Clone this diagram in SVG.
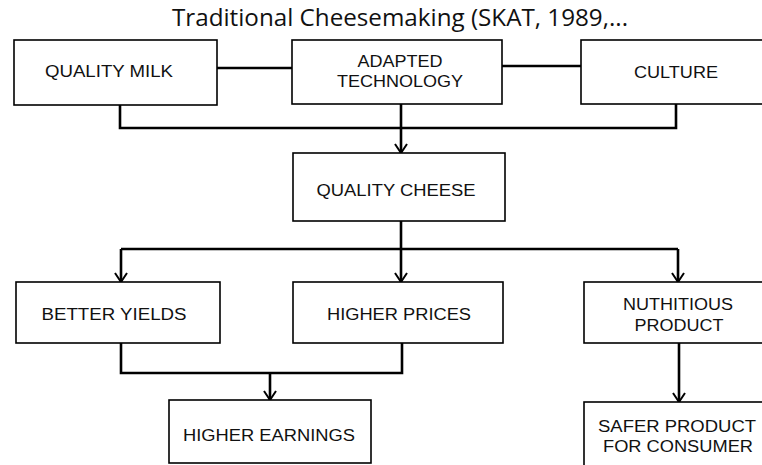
<svg xmlns="http://www.w3.org/2000/svg" width="762" height="465" viewBox="0 0 762 465">
<defs>
<style>
.box{fill:#fff;stroke:#000;stroke-width:1.6}
.lbl{font-family:"Liberation Sans",Arial,sans-serif;font-size:16px;fill:#111;text-anchor:middle}
.ttl{font-family:"Open Sans","Noto Sans",sans-serif;font-size:24px;fill:#111;text-anchor:middle}
.con{fill:none;stroke:#000;stroke-width:2.6}
</style>
<marker id="arr" markerUnits="userSpaceOnUse" markerWidth="20" markerHeight="20" refX="0" refY="0" viewBox="-10 -10 20 20" orient="auto">
<path d="M-9,-6 L0,0 L-9,6" fill="none" stroke="#000" stroke-width="2"/>
</marker>
</defs>
<rect width="762" height="465" fill="#fff"/>
<text class="ttl" x="400" y="26" textLength="456" lengthAdjust="spacingAndGlyphs">Traditional Cheesemaking (SKAT, 1989,...</text>
<g id="connectors">
<path class="con" d="M217,68 H292"/>
<path class="con" d="M502,66 H581"/>
<path class="con" d="M120,105 V128 H676 V104"/>
<path class="con" d="M401,104 V153" marker-end="url(#arr)"/>
<path class="con" d="M401,221 V249"/>
<path class="con" d="M121,249 H678"/>
<path class="con" d="M121,249 V282" marker-end="url(#arr)"/>
<path class="con" d="M401,249 V282" marker-end="url(#arr)"/>
<path class="con" d="M678,249 V282" marker-end="url(#arr)"/>
<path class="con" d="M121,343 V373 H402 V343"/>
<path class="con" d="M270,373 V400" marker-end="url(#arr)"/>
<path class="con" d="M679,343 V402" marker-end="url(#arr)"/>
</g>
<g id="quality-milk">
<rect class="box" x="14" y="40" width="203" height="65"/>
<text class="lbl" x="109" y="77" textLength="128" lengthAdjust="spacingAndGlyphs">QUALITY MILK</text>
</g>
<g id="adapted-technology">
<rect class="box" x="292" y="40" width="210" height="64"/>
<text class="lbl" x="400" y="67" textLength="85" lengthAdjust="spacingAndGlyphs">ADAPTED</text>
<text class="lbl" x="400" y="87" textLength="126" lengthAdjust="spacingAndGlyphs">TECHNOLOGY</text>
</g>
<g id="culture">
<rect class="box" x="581" y="40" width="190" height="64"/>
<text class="lbl" x="676" y="78" textLength="84" lengthAdjust="spacingAndGlyphs">CULTURE</text>
</g>
<g id="quality-cheese">
<rect class="box" x="293" y="153" width="212" height="68"/>
<text class="lbl" x="396" y="196" textLength="159" lengthAdjust="spacingAndGlyphs">QUALITY CHEESE</text>
</g>
<g id="better-yields">
<rect class="box" x="16" y="282" width="204" height="61"/>
<text class="lbl" x="114" y="320" textLength="145" lengthAdjust="spacingAndGlyphs">BETTER YIELDS</text>
</g>
<g id="higher-prices">
<rect class="box" x="293" y="282" width="210" height="61"/>
<text class="lbl" x="399" y="320" textLength="144" lengthAdjust="spacingAndGlyphs">HIGHER PRICES</text>
</g>
<g id="nutritious-product">
<rect class="box" x="584" y="282" width="190" height="61"/>
<text class="lbl" x="678" y="310" textLength="110" lengthAdjust="spacingAndGlyphs">NUTHITIOUS</text>
<text class="lbl" x="679" y="331" textLength="89" lengthAdjust="spacingAndGlyphs">PRODUCT</text>
</g>
<g id="higher-earnings">
<rect class="box" x="169" y="400" width="202" height="63"/>
<text class="lbl" x="269" y="441" textLength="172" lengthAdjust="spacingAndGlyphs">HIGHER EARNINGS</text>
</g>
<g id="safer-product">
<rect class="box" x="584" y="402" width="190" height="80"/>
<text class="lbl" x="677" y="432" textLength="158" lengthAdjust="spacingAndGlyphs">SAFER PRODUCT</text>
<text class="lbl" x="678" y="452" textLength="150" lengthAdjust="spacingAndGlyphs">FOR CONSUMER</text>
</g>
</svg>
